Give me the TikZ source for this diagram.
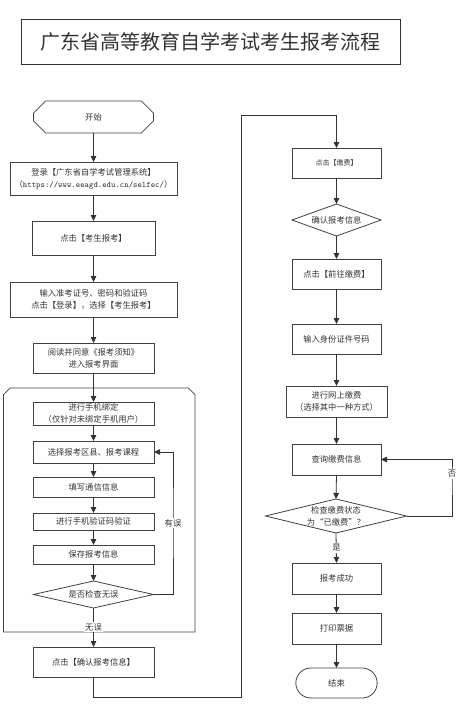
\documentclass[tikz,border=0pt]{standalone}
\usepackage{fontspec}
\setmainfont{Noto Sans CJK SC}
\usetikzlibrary{arrows.meta,shapes,positioning}

\begin{document}
\begin{tikzpicture}[x=1pt,y=-1pt,
    every node/.style={outer sep=0pt,text=black!80,font=\fontsize{8.3}{12}\selectfont},
    box/.style={draw=black!75,line width=0.8pt,minimum width=121pt,minimum height=30pt,inner sep=1pt,align=center},
    rbox/.style={box,minimum width=89pt},
    choice/.style={diamond,draw=black!75,line width=0.8pt,inner sep=0pt,align=center},
    arr/.style={draw=black!80,line width=0.8pt,-{Triangle[length=6pt,width=5.5pt]}},
    tag/.style={fill=white,inner sep=1pt}]
    \useasboundingbox (0,0) rectangle (475,710);
    \node[draw=black!80,line width=0.8pt,minimum width=379pt,minimum height=45pt,font=\fontsize{20}{24}\selectfont] (title) at (210.5,41.5) {广东省高等教育自学考试考生报考流程};
    \node[chamfered rectangle,chamfered rectangle corners={north west,north east},chamfered rectangle xsep=14pt,chamfered rectangle ysep=15pt,draw=black!75,line width=0.8pt,minimum width=191.5pt,minimum height=244pt] (panel) at (99.25,510) {};

    \node[chamfered rectangle,chamfered rectangle xsep=15pt,chamfered rectangle ysep=16pt,draw=black!75,line width=0.8pt,minimum width=120pt,minimum height=32pt,inner sep=0pt] (start) at (93.5,117) {开始};
    \node[box,minimum width=167pt,minimum height=33pt] (login) at (93.5,178.5) {登录【广东省自学考试管理系统】\\（{\ttfamily https://www.eeagd.edu.cn/selfec/}）};
    \node[box,minimum width=123pt,minimum height=34pt] (apply) at (93.5,238) {点击【考生报考】};
    \node[box,minimum width=167pt,minimum height=35pt] (enter) at (93.5,299.5) {输入准考证号、密码和验证码\\点击【登录】，选择【考生报考】};
    \node[box] (notice) at (93.5,358) {阅读并同意《报考须知》\\进入报考界面};
    \node[box,minimum height=23pt] (bind) at (93.5,413.5) {进行手机绑定\\（仅针对未绑定手机用户）};
    \node[box,minimum height=22pt] (course) at (93.5,452) {选择报考区县、报考课程};
    \node[box,minimum height=20pt] (contact) at (93.5,487) {填写通信信息};
    \node[box,minimum height=17pt] (verify) at (93.5,521.5) {进行手机验证码验证};
    \node[box,minimum height=19pt] (save) at (93.5,554.5) {保存报考信息};
    \node[choice,minimum width=120pt,minimum height=27pt,aspect=4.4] (check) at (93.5,594.5) {是否检查无误};
    \node[box] (confirm) at (93.5,662) {点击【确认报考信息】};

    \node[rbox,font=\fontsize{7}{10}\selectfont] (pay) at (336.5,163) {点击【缴费】};
    \node[choice,minimum width=89pt,minimum height=32pt,aspect=2.8] (confirmpay) at (336.5,220) {确认报考信息};
    \node[rbox] (gopay) at (336.5,274) {点击【前往缴费】};
    \node[rbox] (idnum) at (336.5,339) {输入身份证件号码};
    \node[rbox,minimum width=101pt,minimum height=31pt] (online) at (336.5,401.5) {进行网上缴费\\（选择其中一种方式）};
    \node[rbox,minimum height=31pt] (query) at (336.5,459.5) {查询缴费信息};
    \node[choice,minimum width=141pt,minimum height=34pt,aspect=4.15] (status) at (336,516) {检查缴费状态\\为“已缴费”？};
    \node[rbox,minimum height=31pt] (done) at (336.5,578.5) {报考成功};
    \node[rbox,minimum height=31pt] (print) at (336.5,628.5) {打印票据};
    \node[rounded rectangle,draw=black!75,line width=0.8pt,minimum width=88pt,minimum height=30pt] (finish) at (336.5,683) {结束};

    \coordinate (loopL) at (173,523);
    \coordinate (loopR) at (452,474);
    \coordinate (turnB) at (241,697);
    \coordinate (turnT) at (241,115);

    \draw[arr] (start.south) -- (login.north);
    \draw[arr] (login.south) -- (apply.north);
    \draw[arr] (apply.south) -- (enter.north);
    \draw[arr] (enter.south) -- (notice.north);
    \draw[arr] (notice.south) -- (bind.north);
    \draw[arr] (bind.south) -- (course.north);
    \draw[arr] (course.south) -- (contact.north);
    \draw[arr] (contact.south) -- (verify.north);
    \draw[arr] (verify.south) -- (save.north);
    \draw[arr] (save.south) -- (check.north);
    \draw[arr] (check.south) -- (confirm.north);
    \draw[arr] (check.east) -| (loopL) |- (course.east);
    \draw[arr] (confirm.south) |- (turnB) -- (turnT) -| (pay.north);

    \draw[arr] (pay.south) -- (confirmpay.north);
    \draw[arr] (confirmpay.south) -- (gopay.north);
    \draw[arr] (gopay.south) -- (idnum.north);
    \draw[arr] (idnum.south) -- (online.north);
    \draw[arr] (online.south) -- (query.north);
    \draw[arr] (query.south) -- (status.north);
    \draw[arr] (status.south) -- (done.north);
    \draw[arr] (done.south) -- (print.north);
    \draw[arr] (print.south) -- (finish.north);
    \draw[arr] (status.east) -| (loopR) |- (query.east);

    \node[tag] (ok) at (93.5,627) {无误};
    \node[tag] (err) at (loopL) {有误};
    \node[tag] (no) at (loopR) {否};
    \node[tag] (yes) at (336.5,548) {是};
\end{tikzpicture}
\end{document}
